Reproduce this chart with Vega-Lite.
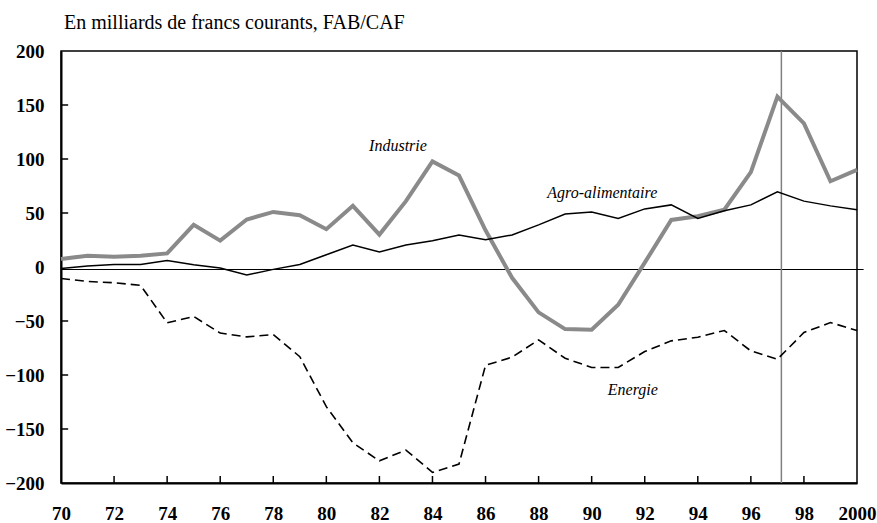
{
  "$schema": "https://vega.github.io/schema/vega-lite/v6.json",
  "width": 796,
  "height": 432,
  "autosize": {"type": "none"},
  "padding": {"left": 61, "top": 51, "right": 20, "bottom": 40},
  "background": "white",
  "config": {
    "view": {"stroke": "black", "strokeWidth": 1.5},
    "font": "Liberation Serif"
  },
  "title": {
    "text": "En milliards de francs courants, FAB/CAF",
    "anchor": "start",
    "frame": "group",
    "dx": 3,
    "offset": 9,
    "font": "Liberation Serif",
    "fontSize": 20,
    "fontWeight": "normal",
    "color": "black"
  },
  "datasets": {
    "series": [
      {"year": 1970, "series": "Industrie", "value": 7.4},
      {"year": 1971, "series": "Industrie", "value": 10.5},
      {"year": 1972, "series": "Industrie", "value": 9.5},
      {"year": 1973, "series": "Industrie", "value": 10.5},
      {"year": 1974, "series": "Industrie", "value": 12.6},
      {"year": 1975, "series": "Industrie", "value": 39},
      {"year": 1976, "series": "Industrie", "value": 24.4},
      {"year": 1977, "series": "Industrie", "value": 44},
      {"year": 1978, "series": "Industrie", "value": 51},
      {"year": 1979, "series": "Industrie", "value": 48},
      {"year": 1980, "series": "Industrie", "value": 35},
      {"year": 1981, "series": "Industrie", "value": 56.6},
      {"year": 1982, "series": "Industrie", "value": 30},
      {"year": 1983, "series": "Industrie", "value": 61},
      {"year": 1984, "series": "Industrie", "value": 97.7},
      {"year": 1985, "series": "Industrie", "value": 84.7},
      {"year": 1986, "series": "Industrie", "value": 34},
      {"year": 1987, "series": "Industrie", "value": -10},
      {"year": 1988, "series": "Industrie", "value": -42},
      {"year": 1989, "series": "Industrie", "value": -57.5},
      {"year": 1990, "series": "Industrie", "value": -58},
      {"year": 1991, "series": "Industrie", "value": -35},
      {"year": 1992, "series": "Industrie", "value": 4},
      {"year": 1993, "series": "Industrie", "value": 43.6},
      {"year": 1994, "series": "Industrie", "value": 47},
      {"year": 1995, "series": "Industrie", "value": 53},
      {"year": 1996, "series": "Industrie", "value": 87.8},
      {"year": 1997, "series": "Industrie", "value": 157.7},
      {"year": 1998, "series": "Industrie", "value": 133},
      {"year": 1999, "series": "Industrie", "value": 79.4},
      {"year": 2000, "series": "Industrie", "value": 90},
      {"year": 1970, "series": "Agro-alimentaire", "value": -1.3},
      {"year": 1971, "series": "Agro-alimentaire", "value": 1},
      {"year": 1972, "series": "Agro-alimentaire", "value": 2.4},
      {"year": 1973, "series": "Agro-alimentaire", "value": 2.4},
      {"year": 1974, "series": "Agro-alimentaire", "value": 6},
      {"year": 1975, "series": "Agro-alimentaire", "value": 2},
      {"year": 1976, "series": "Agro-alimentaire", "value": -1},
      {"year": 1977, "series": "Agro-alimentaire", "value": -7.5},
      {"year": 1978, "series": "Agro-alimentaire", "value": -2.2},
      {"year": 1979, "series": "Agro-alimentaire", "value": 2.4},
      {"year": 1980, "series": "Agro-alimentaire", "value": 11.4},
      {"year": 1981, "series": "Agro-alimentaire", "value": 20.4},
      {"year": 1982, "series": "Agro-alimentaire", "value": 14},
      {"year": 1983, "series": "Agro-alimentaire", "value": 20.4},
      {"year": 1984, "series": "Agro-alimentaire", "value": 24.4},
      {"year": 1985, "series": "Agro-alimentaire", "value": 29.7},
      {"year": 1986, "series": "Agro-alimentaire", "value": 25.3},
      {"year": 1987, "series": "Agro-alimentaire", "value": 29.7},
      {"year": 1988, "series": "Agro-alimentaire", "value": 39},
      {"year": 1989, "series": "Agro-alimentaire", "value": 49},
      {"year": 1990, "series": "Agro-alimentaire", "value": 51},
      {"year": 1991, "series": "Agro-alimentaire", "value": 45},
      {"year": 1992, "series": "Agro-alimentaire", "value": 53.8},
      {"year": 1993, "series": "Agro-alimentaire", "value": 57.5},
      {"year": 1994, "series": "Agro-alimentaire", "value": 45},
      {"year": 1995, "series": "Agro-alimentaire", "value": 52},
      {"year": 1996, "series": "Agro-alimentaire", "value": 57.5},
      {"year": 1997, "series": "Agro-alimentaire", "value": 69.6},
      {"year": 1998, "series": "Agro-alimentaire", "value": 61},
      {"year": 1999, "series": "Agro-alimentaire", "value": 56.6},
      {"year": 2000, "series": "Agro-alimentaire", "value": 53},
      {"year": 1970, "series": "Energie", "value": -10.6},
      {"year": 1971, "series": "Energie", "value": -13.4},
      {"year": 1972, "series": "Energie", "value": -14.6},
      {"year": 1973, "series": "Energie", "value": -17},
      {"year": 1974, "series": "Energie", "value": -51.7},
      {"year": 1975, "series": "Energie", "value": -45.8},
      {"year": 1976, "series": "Energie", "value": -61.2},
      {"year": 1977, "series": "Energie", "value": -64.7},
      {"year": 1978, "series": "Energie", "value": -62.5},
      {"year": 1979, "series": "Energie", "value": -83},
      {"year": 1980, "series": "Energie", "value": -129.3},
      {"year": 1981, "series": "Energie", "value": -162.8},
      {"year": 1982, "series": "Energie", "value": -179.5},
      {"year": 1983, "series": "Energie", "value": -169.5},
      {"year": 1984, "series": "Energie", "value": -190.2},
      {"year": 1985, "series": "Energie", "value": -182.5},
      {"year": 1986, "series": "Energie", "value": -91},
      {"year": 1987, "series": "Energie", "value": -83.5},
      {"year": 1988, "series": "Energie", "value": -67.5},
      {"year": 1989, "series": "Energie", "value": -84.5},
      {"year": 1990, "series": "Energie", "value": -93},
      {"year": 1991, "series": "Energie", "value": -93},
      {"year": 1992, "series": "Energie", "value": -78.3},
      {"year": 1993, "series": "Energie", "value": -68.4},
      {"year": 1994, "series": "Energie", "value": -65},
      {"year": 1995, "series": "Energie", "value": -58.8},
      {"year": 1996, "series": "Energie", "value": -77.7},
      {"year": 1997, "series": "Energie", "value": -85.4},
      {"year": 1998, "series": "Energie", "value": -60.7},
      {"year": 1999, "series": "Energie", "value": -51.4},
      {"year": 2000, "series": "Energie", "value": -58.8}
    ],
    "labels": [
      {"year": 1982.7, "value": 111.6, "text": "Industrie"},
      {"year": 1990.4, "value": 68.7, "text": "Agro-alimentaire"},
      {"year": 1991.55, "value": -113.9, "text": "Energie"}
    ],
    "xticks": [
      {"year": 1972, "lo": -200, "hi": -193.5}, {"year": 1974, "lo": -200, "hi": -193.5},
      {"year": 1976, "lo": -200, "hi": -193.5}, {"year": 1978, "lo": -200, "hi": -193.5},
      {"year": 1980, "lo": -200, "hi": -193.5}, {"year": 1982, "lo": -200, "hi": -193.5},
      {"year": 1984, "lo": -200, "hi": -193.5}, {"year": 1986, "lo": -200, "hi": -193.5},
      {"year": 1988, "lo": -200, "hi": -193.5}, {"year": 1990, "lo": -200, "hi": -193.5},
      {"year": 1992, "lo": -200, "hi": -193.5}, {"year": 1994, "lo": -200, "hi": -193.5},
      {"year": 1996, "lo": -200, "hi": -193.5}, {"year": 1998, "lo": -200, "hi": -193.5}
    ],
    "yticks": [
      {"value": -150, "lo": 1970, "hi": 1970.27}, {"value": -100, "lo": 1970, "hi": 1970.27},
      {"value": -50, "lo": 1970, "hi": 1970.27}, {"value": 50, "lo": 1970, "hi": 1970.27},
      {"value": 100, "lo": 1970, "hi": 1970.27}, {"value": 150, "lo": 1970, "hi": 1970.27}
    ],
    "zero": [{"value": 0, "lo": 1970, "hi": 2000.25}],
    "marker": [{"year": 1997.15, "lo": -200, "hi": 200}]
  },
  "encoding": {
    "x": {
      "field": "year",
      "type": "quantitative",
      "scale": {"domain": [1970, 2000], "nice": false, "zero": false},
      "axis": {
        "title": null,
        "values": [1970, 1972, 1974, 1976, 1978, 1980, 1982, 1984, 1986, 1988, 1990, 1992, 1994, 1996, 1998, 2000],
        "labelExpr": "datum.value == 2000 ? '2000' : substring(toString(datum.value), 2)",
        "grid": false,
        "ticks": false,
        "domainColor": "black",
        "domainWidth": 2,
        "labelPadding": 21,
        "labelFont": "Liberation Serif",
        "labelFontWeight": "bold",
        "labelFontSize": 19,
        "labelColor": "black",
        "labelFlush": false
      }
    },
    "y": {
      "field": "value",
      "type": "quantitative",
      "scale": {"domain": [-200, 200], "nice": false},
      "axis": {
        "title": null,
        "values": [-200, -150, -100, -50, 0, 50, 100, 150, 200],
        "grid": false,
        "ticks": false,
        "domainColor": "black",
        "domainWidth": 2,
        "labelPadding": 17,
        "labelFont": "Liberation Serif",
        "labelFontWeight": "bold",
        "labelFontSize": 19,
        "labelColor": "black",
        "labelFlush": false
      }
    }
  },
  "layer": [
    {
      "data": {"name": "zero"},
      "mark": {"type": "rule", "color": "black", "strokeWidth": 1, "clip": false, "yOffset": 2.5},
      "encoding": {
        "x": {"field": "lo", "type": "quantitative"},
        "x2": {"field": "hi"}
      }
    },
    {
      "data": {"name": "marker"},
      "mark": {"type": "rule", "color": "#808080", "strokeWidth": 1.5},
      "encoding": {
        "y": {"field": "lo", "type": "quantitative"},
        "y2": {"field": "hi"}
      }
    },
    {
      "data": {"name": "xticks"},
      "mark": {"type": "rule", "color": "black", "strokeWidth": 1.5},
      "encoding": {
        "y": {"field": "lo", "type": "quantitative"},
        "y2": {"field": "hi"}
      }
    },
    {
      "data": {"name": "yticks"},
      "mark": {"type": "rule", "color": "black", "strokeWidth": 1.5},
      "encoding": {
        "x": {"field": "lo", "type": "quantitative"},
        "x2": {"field": "hi"}
      }
    },
    {
      "data": {"name": "series"},
      "transform": [{"filter": "datum.series == 'Industrie'"}],
      "mark": {"type": "line", "color": "#8a8a8a", "strokeWidth": 4, "strokeJoin": "miter"}
    },
    {
      "data": {"name": "series"},
      "transform": [{"filter": "datum.series == 'Agro-alimentaire'"}],
      "mark": {"type": "line", "color": "black", "strokeWidth": 1.5}
    },
    {
      "data": {"name": "series"},
      "transform": [{"filter": "datum.series == 'Energie'"}],
      "mark": {"type": "line", "color": "black", "strokeWidth": 1.6, "strokeDash": [9, 5]}
    },
    {
      "data": {"name": "labels"},
      "mark": {"type": "text", "font": "Liberation Serif", "fontStyle": "italic", "fontSize": 16, "color": "black", "align": "center", "baseline": "middle"},
      "encoding": {
        "text": {"field": "text"}
      }
    }
  ]
}
